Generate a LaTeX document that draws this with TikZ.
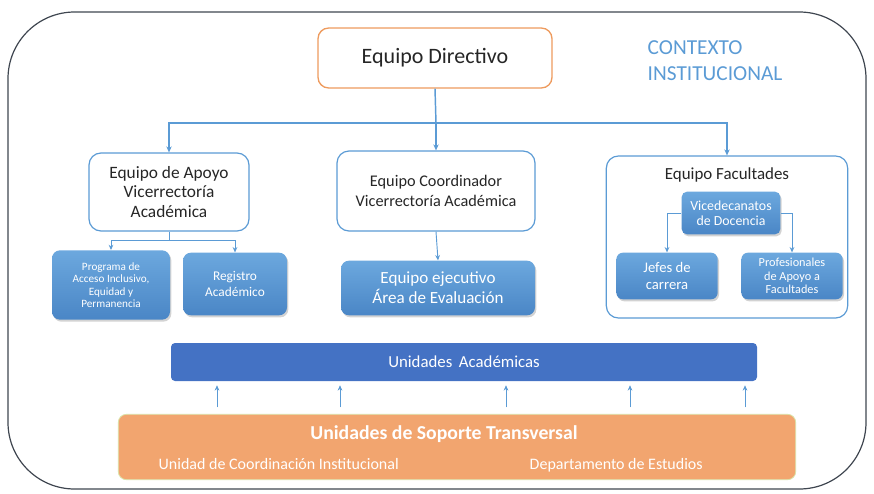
\documentclass[tikz,border=0pt]{standalone}
\usepackage{fontspec}
\setmainfont{Carlito}
\usetikzlibrary{positioning}
\usetikzlibrary{shapes,arrows.meta,shadows}

\definecolor{lineblue}{HTML}{5B9BD5}
\definecolor{boxtop}{HTML}{6CA8DE}
\definecolor{boxbot}{HTML}{4A86C6}
\definecolor{acadblue}{HTML}{4472C4}
\definecolor{dirorange}{HTML}{EE9B5E}
\definecolor{soporange}{HTML}{F2A56F}
\definecolor{sopedge}{HTML}{D9E3A8}
\definecolor{framegray}{HTML}{3F4650}
\definecolor{txtgray}{HTML}{262626}

\tikzset{
    whitebox/.style={rectangle,rounded corners=9pt,draw=lineblue,line width=0.9pt,fill=white,
        text=txtgray,align=center,inner sep=2pt},
    bluebox/.style={rectangle,rounded corners=6pt,top color=boxtop,bottom color=boxbot,draw=none,
        text=white,align=center,inner sep=2pt,drop shadow={shadow xshift=1pt,shadow yshift=-1.5pt,opacity=0.35}},
    link/.style={draw=lineblue,line width=1.1pt,-{Stealth[length=4.5pt,width=4pt]}},
    thinlink/.style={draw=lineblue,line width=0.7pt,-{Stealth[length=4pt,width=3.5pt]}}
}

\begin{document}
\begin{tikzpicture}[x=0.75pt,y=-0.75pt]
    \useasboundingbox (0,0) rectangle (874,493);
    %Outer frame
    \draw[framegray,line width=0.9pt,rounded corners=50pt] (8,12) rectangle (866,489);

    \node[rectangle,rounded corners=8pt,draw=dirorange,line width=1pt,fill=white,text=txtgray,
        minimum width=175.5pt,minimum height=45pt,font=\fontsize{16.5}{19}\selectfont] (dir) at (435,58) {Equipo Directivo};
    \node[anchor=west,text=lineblue,align=left,font=\fontsize{16}{19.5}\selectfont] (ctx) at (643,61) {CONTEXTO\\INSTITUCIONAL};

    \node[whitebox,minimum width=120pt,minimum height=58.5pt,font=\fontsize{13}{14.6}\selectfont] (apoyo) at (169,192)
        {Equipo de Apoyo\\Vicerrectoría\\Académica};
    \node[whitebox,minimum width=148.5pt,minimum height=60pt,font=\fontsize{12.2}{14.5}\selectfont] (coord) at (436,191)
        {Equipo Coordinador\\Vicerrectoría Académica};
    \node[whitebox,minimum width=181pt,minimum height=121.5pt] (facu) at (727,237) {};
    \node[text=txtgray,font=\fontsize{12.7}{14}\selectfont] (facutit) at (727,175) {Equipo Facultades};

    \node[bluebox,minimum width=88.5pt,minimum height=52pt,font=\fontsize{8.4}{9.3}\selectfont] (prog) at (111,285)
        {Programa de\\Acceso Inclusivo,\\Equidad y\\Permanencia};
    \node[bluebox,minimum width=78pt,minimum height=47pt,font=\fontsize{10}{12}\selectfont] (reg) at (235,284)
        {Registro\\Académico};
    \node[bluebox,minimum width=145.5pt,minimum height=41pt,font=\fontsize{12.8}{14.8}\selectfont] (ejec) at (438,288)
        {Equipo ejecutivo\\Área de Evaluación};
    \node[bluebox,minimum width=74pt,minimum height=32pt,rounded corners=4pt,font=\fontsize{10.4}{11.5}\selectfont] (vice) at (731,213)
        {Vicedecanatos\\de Docencia};
    \node[bluebox,minimum width=76pt,minimum height=35pt,rounded corners=5pt,font=\fontsize{11}{13}\selectfont] (jefes) at (667,276)
        {Jefes de\\carrera};
    \node[bluebox,minimum width=76pt,minimum height=35pt,rounded corners=5pt,font=\fontsize{9.2}{10.3}\selectfont] (prof) at (792,276)
        {Profesionales\\de Apoyo a\\Facultades};

    \node[rectangle,rounded corners=3pt,fill=acadblue,text=white,minimum width=439.5pt,minimum height=28.5pt,
        font=\fontsize{12.6}{14}\selectfont] (acad) at (464,362) {Unidades\ \,Académicas};
    \node[rectangle,rounded corners=6pt,fill=soporange,draw=sopedge,line width=0.6pt,minimum width=508pt,
        minimum height=49pt] (sop) at (457,447) {};
    \node[text=white,font=\bfseries\fontsize{14.8}{16}\selectfont] (soptit) at (444,434) {Unidades de Soporte Transversal};
    \node[text=white,anchor=west,font=\fontsize{12}{13}\selectfont] (ucoord) at (154,464) {Unidad de Coordinación Institucional};
    \node[text=white,anchor=west,font=\fontsize{12}{13}\selectfont] (dest) at (525,465) {Departamento de Estudios};

    %Links from the top
    \coordinate (split) at (436,123);
    \draw[draw=lineblue,line width=1.1pt] (dir.south) -- (split);
    \draw[link] (split) -- (coord.north);
    \draw[link] (split) -| (apoyo.north);
    \draw[link] (split) -| (facu.north);

    %Links under the support team
    \coordinate (asplit) at (169,240);
    \draw[draw=lineblue,line width=0.7pt] (apoyo.south) -- (asplit);
    \draw[thinlink] (asplit) -| (prog.north);
    \draw[thinlink] (asplit) -| (reg.north);
    \draw[thinlink] (coord.south) -- (ejec.north);

    %Links inside the faculties
    \draw[thinlink] (vice.west) -| (jefes.north);
    \draw[thinlink] (vice.east) -| (prof.north);

    %Arrows up to the academic units
    \foreach \x in {217,340,506,630,745} {
        \draw[thinlink,shorten <=5pt,shorten >=3pt] (sop.north -| \x,0) -- (acad.south -| \x,0);
    }
\end{tikzpicture}
\end{document}
